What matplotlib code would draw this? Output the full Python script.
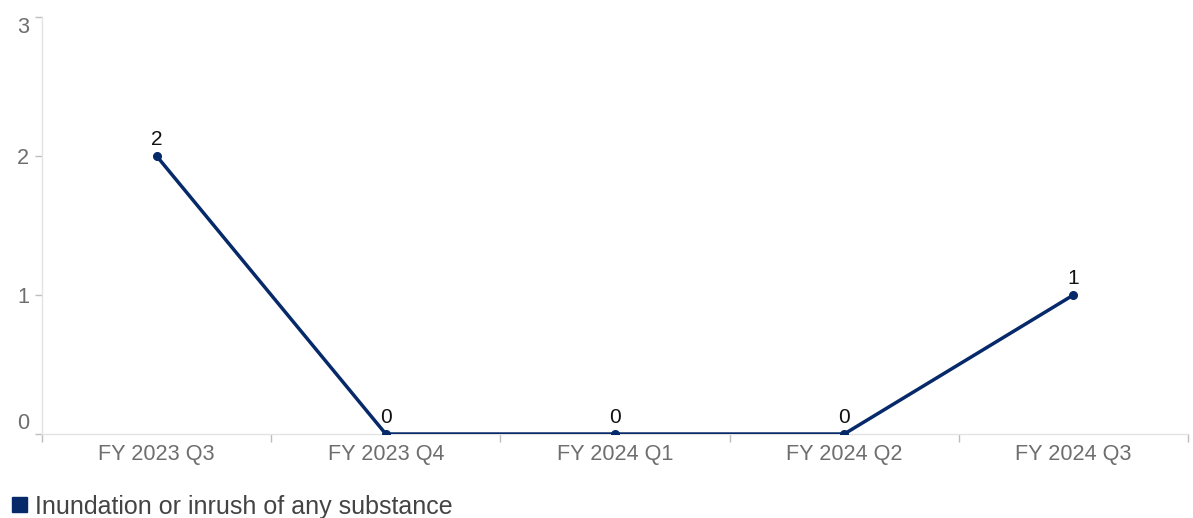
import matplotlib
matplotlib.use("Agg")
import matplotlib.pyplot as plt
from matplotlib.patches import Rectangle

plt.rcParams['font.family'] = ['Liberation Sans', 'DejaVu Sans']

categories = ["FY 2023 Q3", "FY 2023 Q4", "FY 2024 Q1", "FY 2024 Q2", "FY 2024 Q3"]
values = [2, 0, 0, 0, 1]
series_name = "Inundation or inrush of any substance"
y_ticks = [0, 1, 2, 3]

navy = "#06296a"
axis_grey = "#e3e3e3"
label_grey = "#6e6e6e"

W, H = 1193, 518
fig = plt.figure(figsize=(W / 100, H / 100), dpi=100)
ax = fig.add_axes([42 / W, 1 - 434 / H, (1188 - 42) / W, (434 - 17) / H])

x = list(range(len(categories)))
ax.plot(x, values, color=navy, lw=2.5, marker='o', ms=5.5, solid_capstyle='round', zorder=3)
for xi, v in zip(x, values):
    ax.annotate(str(v), (xi, v), xytext=(0, 5), textcoords='offset points',
                ha='center', va='bottom', fontsize=15, color='#111111')

ax.set_xlim(-0.5, len(categories) - 0.5)
ax.set_ylim(0, 3)

for side in ('top', 'right'):
    ax.spines[side].set_visible(False)
for side in ('left', 'bottom'):
    ax.spines[side].set_color(axis_grey)
    ax.spines[side].set_linewidth(1)

# category boundaries carry the tick marks; labels sit at the band centres
ax.set_xticks([i - 0.5 for i in range(len(categories) + 1)])
ax.set_xticklabels([])
ax.set_xticks(x, minor=True)
ax.set_xticklabels(categories, minor=True, fontsize=15.6, color=label_grey)
ax.tick_params(axis='x', which='major', length=6, color='#bdbdbd', width=1)
ax.tick_params(axis='x', which='minor', length=0, pad=7)

ax.set_yticks(y_ticks)
ax.set_yticklabels([str(t) for t in y_ticks], fontsize=15.6, color=label_grey)
ax.tick_params(axis='y', length=5, color='#bdbdbd', width=1, pad=4)
ylabels = ax.get_yticklabels()
ylabels[0].set_va('bottom')
ylabels[-1].set_va('top')
ylabels[-1].set_y(2.97)

# legend entry below the plot
fig.patches.append(Rectangle((12 / W, 1 - 512 / H), 15 / W, 15 / H,
                             transform=fig.transFigure, color=navy))
fig.text(35 / W, 1 - 507 / H, series_name, fontsize=18, color='#444444',
         va='center', ha='left')

fig.savefig("out.png", dpi=100, facecolor='white')
